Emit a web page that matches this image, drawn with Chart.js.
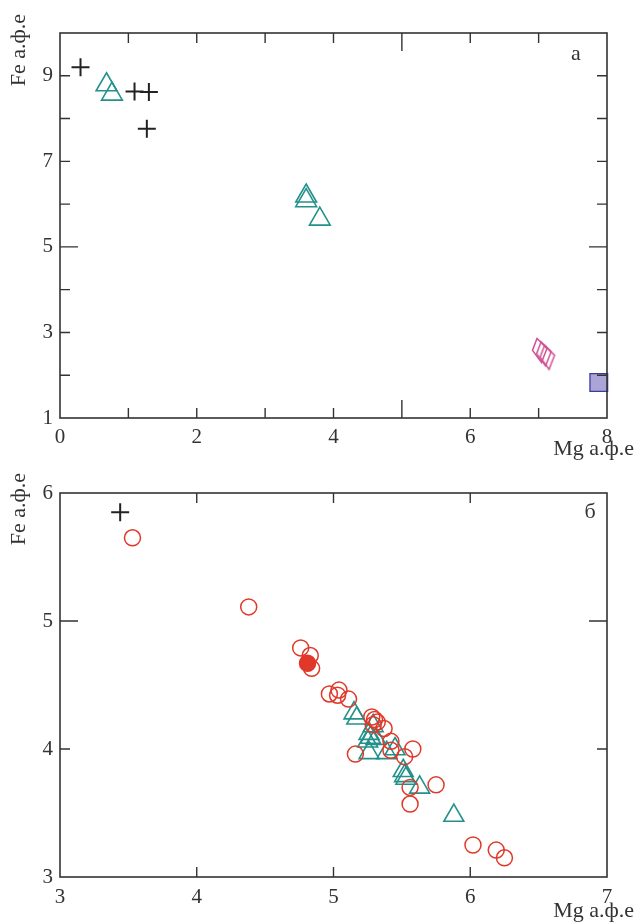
<!DOCTYPE html>
<html lang="ru">
  <head>
    <meta charset="UTF-8" />
    <title>Fe – Mg а.ф.е</title>
    <script src="https://cdn.jsdelivr.net/npm/chart.js"></script>
    <style>
      body { margin: 0; background: #fff; }
      .box { position: relative; width: 636px; }
    </style>
  </head>
  <body>
    <div class="box" style="height: 460px"><canvas id="chartA"></canvas></div>
    <div class="box" style="height: 462px"><canvas id="chartB"></canvas></div>

    <script>
      // --- panel а (x = Mg, y = Fe) ---
      const aCrossX = [0.30, 1.09, 1.30, 1.27];
      const aCrossY = [9.20, 8.63, 8.62, 7.76];
      const aTriX = [0.68, 0.76, 3.60, 3.60, 3.80];
      const aTriY = [8.79, 8.57, 6.19, 6.08, 5.65];
      const aDiamondX = [7.02, 7.08, 7.13];
      const aDiamondY = [2.58, 2.50, 2.42];
      const aSquareX = [7.88];
      const aSquareY = [1.83];

      // --- panel б ---
      const bCrossX = [3.44];
      const bCrossY = [5.85];
      const bCircleX = [3.53, 4.38, 4.76, 4.83, 4.84, 4.97, 5.04, 5.03, 5.11, 5.28, 5.30, 5.32, 5.29,
        5.37, 5.42, 5.42, 5.16, 5.58, 5.52, 5.75, 5.56, 5.56, 6.02, 6.19, 6.25];
      const bCircleY = [5.65, 5.11, 4.79, 4.73, 4.63, 4.43, 4.46, 4.42, 4.39, 4.25, 4.23, 4.21, 4.19,
        4.16, 4.06, 3.99, 3.96, 4.00, 3.94, 3.72, 3.70, 3.57, 3.25, 3.21, 3.15];
      const bDotX = [4.81];
      const bDotY = [4.67];
      const bTriX = [5.15, 5.17, 5.29, 5.26, 5.27, 5.25, 5.31, 5.26, 5.39, 5.45, 5.51, 5.52, 5.53, 5.63, 5.88];
      const bTriY = [4.28, 4.24, 4.18, 4.12, 4.09, 4.06, 4.08, 3.97, 3.97, 4.00, 3.83, 3.79, 3.77, 3.70, 3.48];

      const AXIS_TITLE_Y = "Fe а.ф.е";
      const AXIS_TITLE_X = "Mg а.ф.е";

      const FONT = "Liberation Serif";
      const INK = "#333";
      const TEAL = "#23918b";
      const RED = "#e0382a";
      const PINK = "#cf4f92";

      const pts = (xs, ys) => xs.map((x, i) => ({ x: x, y: ys[i] }));

      // tilted diamond marker
      const diamond = document.createElement("canvas");
      diamond.width = 18;
      diamond.height = 27;
      (function () {
        const c = diamond.getContext("2d");
        c.strokeStyle = PINK;
        c.lineWidth = 1.5;
        c.beginPath();
        c.moveTo(6, 1.5);
        c.lineTo(16, 11.5);
        c.lineTo(10.5, 25.5);
        c.lineTo(1.5, 13.5);
        c.closePath();
        c.stroke();
      })();

      // frame, inside ticks, titles
      function framePlugin(cfg) {
        return {
          id: "frame",
          afterDraw(chart) {
            const { ctx, chartArea: a, scales } = chart;
            ctx.save();
            ctx.strokeStyle = INK;
            ctx.lineWidth = 1.6;
            ctx.strokeRect(a.left, a.top, a.right - a.left, a.bottom - a.top);
            ctx.lineWidth = 1.4;
            ctx.beginPath();
            cfg.xTicks.forEach((v) => {
              const px = scales.x.getPixelForValue(v);
              const len = v === cfg.longX ? 18 : 10;
              ctx.moveTo(px, a.bottom);
              ctx.lineTo(px, a.bottom - len);
              ctx.moveTo(px, a.top);
              ctx.lineTo(px, a.top + len);
            });
            cfg.yTicks.forEach((v) => {
              const py = scales.y.getPixelForValue(v);
              const len = v === cfg.longY ? 18 : 10;
              ctx.moveTo(a.left, py);
              ctx.lineTo(a.left + len, py);
              ctx.moveTo(a.right, py);
              ctx.lineTo(a.right - len, py);
            });
            ctx.stroke();

            ctx.fillStyle = INK;
            ctx.font = "22px " + FONT;
            ctx.textBaseline = "middle";
            ctx.textAlign = "right";
            ctx.fillText(AXIS_TITLE_X, 634, cfg.xTitleY);
            ctx.textAlign = "center";
            ctx.fillText(cfg.letter, cfg.letterX, cfg.letterY);

            ctx.translate(19, cfg.yTitleTop);
            ctx.rotate(-Math.PI / 2);
            ctx.textAlign = "right";
            ctx.fillText(AXIS_TITLE_Y, 0, 0);
            ctx.restore();
          },
        };
      }

      function scaleOpts(min, max, showLabel, fixed, pad) {
        return {
          type: "linear",
          min: min,
          max: max,
          grid: { display: false, drawTicks: false },
          border: { display: false },
          ticks: {
            stepSize: 1,
            autoSkip: false,
            padding: pad,
            color: INK,
            font: { family: FONT, size: 21 },
            callback: (v) => (showLabel(v) ? v : ""),
          },
          afterFit: fixed,
        };
      }

      function makeChart(id, datasets, xs, ys, plugin, topPad) {
        return new Chart(document.getElementById(id), {
          type: "scatter",
          data: { datasets: datasets },
          options: {
            responsive: true,
            maintainAspectRatio: false,
            animation: false,
            layout: { padding: { left: 0, right: 29, top: topPad, bottom: 0 } },
            scales: { x: xs, y: ys },
            plugins: { legend: { display: false }, tooltip: { enabled: false } },
          },
          plugins: [plugin],
        });
      }

      makeChart(
        "chartA",
        [
          { data: pts(aSquareX, aSquareY), pointStyle: "rect", pointRadius: 12.5, borderWidth: 1.3,
            borderColor: "#3d3c9c", backgroundColor: "#aaa5d6", clip: false },
          { data: pts(aDiamondX, aDiamondY), pointStyle: diamond, clip: false },
          { data: pts(aTriX, aTriY), pointStyle: "triangle", pointRadius: 12, borderWidth: 1.6,
            borderColor: TEAL, backgroundColor: "transparent" },
          { data: pts(aCrossX, aCrossY), pointStyle: "cross", pointRadius: 9, borderWidth: 2,
            borderColor: "#222" },
        ],
        scaleOpts(0, 8, (v) => v % 2 === 0, (s) => { s.height = 42; }, 7),
        scaleOpts(1, 10, (v) => v % 2 === 1 && v < 10, (s) => { s.width = 60; }, 7),
        framePlugin({
          xTicks: [1, 2, 3, 4, 5, 6, 7], longX: 5,
          yTicks: [2, 3, 4, 5, 6, 7, 8, 9], longY: 5,
          letter: "а", letterX: 576, letterY: 54,
          xTitleY: 449, yTitleTop: 14,
        }),
        33
      );

      makeChart(
        "chartB",
        [
          { data: pts(bCircleX, bCircleY), pointStyle: "circle", pointRadius: 8, borderWidth: 1.5,
            borderColor: RED, backgroundColor: "transparent" },
          { data: pts(bDotX, bDotY), pointStyle: "circle", pointRadius: 8, borderWidth: 1.5,
            borderColor: RED, backgroundColor: RED },
          { data: pts(bTriX, bTriY), pointStyle: "triangle", pointRadius: 11.5, borderWidth: 1.6,
            borderColor: TEAL, backgroundColor: "transparent" },
          { data: pts(bCrossX, bCrossY), pointStyle: "cross", pointRadius: 9, borderWidth: 2,
            borderColor: "#222" },
        ],
        scaleOpts(3, 7, () => true, (s) => { s.height = 45; }, 8),
        scaleOpts(3, 6, () => true, (s) => { s.width = 60; }, 7),
        framePlugin({
          xTicks: [4, 5, 6], longX: null,
          yTicks: [4, 5], longY: 5,
          letter: "б", letterX: 590, letterY: 52,
          xTitleY: 451, yTitleTop: 13,
        }),
        33
      );
    </script>
  </body>
</html>
